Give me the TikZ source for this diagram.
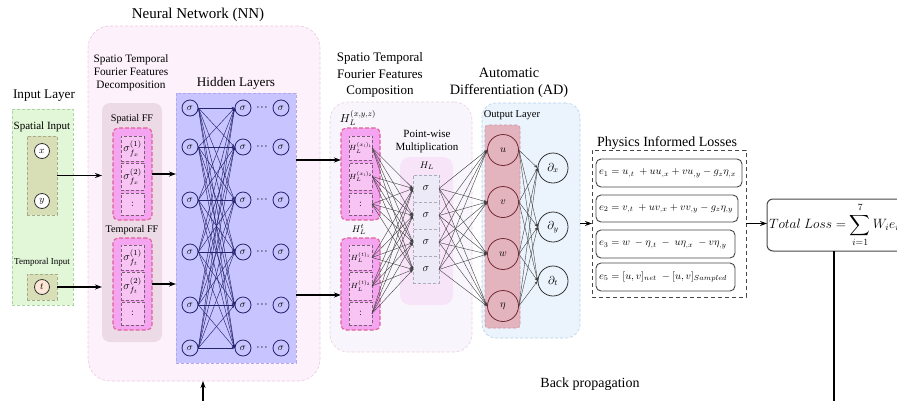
\RequirePackage{fix-cm}
\documentclass[tikz,border=0pt]{standalone}
\usepackage{amsmath}
\usepackage{fontspec}
\setmainfont{Liberation Serif}
\usetikzlibrary{arrows.meta,calc}

\definecolor{nnfill}{RGB}{253,241,251}
\definecolor{nnline}{RGB}{236,200,226}
\definecolor{inpfill}{RGB}{226,246,216}
\definecolor{inpline}{RGB}{170,212,160}
\definecolor{olvfill}{RGB}{216,222,182}
\definecolor{olvline}{RGB}{165,172,140}
\definecolor{peach}{RGB}{253,230,214}
\definecolor{decfill}{RGB}{236,218,231}
\definecolor{magfill}{RGB}{244,164,240}
\definecolor{magline}{RGB}{226,96,150}
\definecolor{subfill}{RGB}{248,196,244}
\definecolor{subline}{RGB}{120,96,112}
\definecolor{hidfill}{RGB}{200,196,255}
\definecolor{hidline}{RGB}{176,170,235}
\definecolor{navy}{RGB}{36,36,110}
\definecolor{compfill}{RGB}{248,246,252}
\definecolor{compline}{RGB}{238,204,224}
\definecolor{pwfill}{RGB}{248,228,248}
\definecolor{cellfill}{RGB}{236,234,246}
\definecolor{cellline}{RGB}{170,170,190}
\definecolor{adfill}{RGB}{235,244,252}
\definecolor{adline}{RGB}{180,208,230}
\definecolor{outfill}{RGB}{228,180,190}
\definecolor{outbline}{RGB}{200,150,162}
\definecolor{outcirc}{RGB}{112,40,52}
\definecolor{egray}{RGB}{70,70,70}

\begin{document}
\begin{tikzpicture}[x=1pt,y=-1pt,
 box/.style={rectangle, anchor=north west, inner sep=0pt, outer sep=0pt},
 dsh/.style={dash pattern=on 3pt off 2pt},
 lbl/.style={inner sep=0pt, outer sep=0pt, align=center},
 arr/.style={-{Stealth[length=7pt,width=5pt]}, line width=1.3pt, black},
 hcirc/.style={circle, draw=navy, line width=0.8pt, minimum size=16pt, inner sep=0pt, font=\fontsize{10}{11}\selectfont},
 icirc/.style={circle, draw=black!80, line width=0.8pt, minimum size=15pt, inner sep=0pt, font=\fontsize{9.5}{10}\selectfont},
 ocirc/.style={circle, draw=outcirc, line width=0.8pt, minimum size=31pt, inner sep=0pt, font=\fontsize{10.5}{12}\selectfont},
 dcirc/.style={circle, draw=black!80, line width=0.8pt, minimum size=30pt, inner sep=0pt, font=\fontsize{11.5}{12}\selectfont},
 hline/.style={navy, line width=0.45pt, -{Stealth[length=3pt,width=2.4pt]}},
 gline/.style={black!75, line width=0.4pt, -{Stealth[length=3.5pt,width=2.6pt]}},
 magbox/.style={box, minimum width=39pt, minimum height=92pt, fill=magfill, draw=magline, line width=1.1pt, dash pattern=on 4pt off 2pt, rounded corners=5pt},
 subbox/.style={box, minimum width=23pt, fill=subfill, draw=subline, line width=0.7pt, dsh},
 ebox/.style={box, minimum height=28pt, draw=egray, line width=0.9pt, rounded corners=5pt},
 etext/.style={lbl, anchor=west, font=\fontsize{10.4}{12}\selectfont},
 cell/.style={box, minimum width=26pt, minimum height=27pt, fill=cellfill, draw=cellline, line width=0.7pt, dsh, font=\fontsize{11}{12}\selectfont}
]
\useasboundingbox (0,0) rectangle (897,400);

% ---------- big backgrounds
\node[box, minimum width=232pt, minimum height=355pt, fill=nnfill, draw=nnline, dsh, line width=0.6pt, rounded corners=22pt] (nn) at (88,26) {};
\node[box, minimum width=61pt, minimum height=196pt, fill=inpfill, draw=inpline, dsh, line width=0.6pt] (inp) at (12,109) {};
\node[box, minimum width=30pt, minimum height=79pt, fill=olvfill, draw=olvline, dsh, line width=0.6pt] (spin) at (27,136) {};
\node[box, minimum width=30pt, minimum height=26pt, fill=olvfill, draw=olvline, dsh, line width=0.6pt] (tin) at (27,274) {};
\node[box, minimum width=60pt, minimum height=239pt, fill=decfill, rounded corners=8pt] (dec) at (102,103) {};
\node[box, minimum width=120pt, minimum height=270pt, fill=hidfill, draw=hidline, dsh, line width=0.5pt] (hid) at (176,93) {};
\node[box, minimum width=142pt, minimum height=250pt, fill=compfill, draw=compline, dsh, line width=0.6pt, rounded corners=18pt] (comp) at (330,102) {};
\node[box, minimum width=53pt, minimum height=148pt, fill=pwfill, rounded corners=10pt] (pw) at (400,157) {};
\node[box, minimum width=98pt, minimum height=235pt, fill=adfill, draw=adline, dsh, line width=0.6pt, rounded corners=14pt] (ad) at (482,103) {};
\node[box, minimum width=35pt, minimum height=203pt, fill=outfill, draw=outbline, dsh, line width=0.6pt, rounded corners=3pt] (outb) at (485,125) {};
\node[box, minimum width=154pt, minimum height=147pt, draw=egray, dash pattern=on 4pt off 3pt, line width=0.9pt] (phys) at (592,150) {};

% ---------- titles
\node[lbl, font=\fontsize{15}{18}\selectfont] (tnn) at (198,15) {Neural Network (NN)};
\node[lbl, font=\fontsize{13.2}{15}\selectfont] (tinp) at (44,96) {Input Layer};
\node[lbl, font=\fontsize{11}{13}\selectfont] (tsin) at (42,127) {Spatial Input};
\node[lbl, font=\fontsize{9}{11}\selectfont] (ttin) at (42,262) {Temporal Input};
\node[lbl, font=\fontsize{11.3}{13}\selectfont] (tdec) at (131,73) {Spatio Temporal\\Fourier Features\\Decomposition};
\node[lbl, font=\fontsize{13.2}{15}\selectfont] (thid) at (236,83) {Hidden Layers};
\node[lbl, font=\fontsize{10.2}{12}\selectfont] (tsff) at (132,119) {Spatial FF};
\node[lbl, font=\fontsize{10.2}{12}\selectfont] (ttff) at (132,230) {Temporal FF};
\node[lbl, font=\fontsize{13}{16.5}\selectfont] (tcomp) at (380,75) {Spatio Temporal\\Fourier Features\\Composition};
\node[lbl, font=\fontsize{11.5}{13}\selectfont] (thx) at (358,118) {$H_L^{(x,y,z)}$};
\node[lbl, font=\fontsize{9.5}{11}\selectfont] (tht) at (359,229) {$H_L^{t}$};
\node[lbl, font=\fontsize{11}{13}\selectfont] (tpw) at (427,142) {Point-wise\\Multiplication};
\node[lbl, font=\fontsize{9.5}{11}\selectfont] (thl) at (427,166) {$H_L$};
\node[lbl, font=\fontsize{14.3}{17}\selectfont] (tad) at (509,83) {Automatic\\Differentiation (AD)};
\node[lbl, font=\fontsize{10.5}{12}\selectfont] (tout) at (512,115) {Output Layer};
\node[lbl, font=\fontsize{14}{16}\selectfont] (tphys) at (667,143) {Physics Informed Losses};
\node[lbl, font=\fontsize{14}{16}\selectfont] (tbp) at (590,384) {Back propagation};

% ---------- input circles
\node[icirc, fill=white] (cx) at (42,151) {$x$};
\node[icirc, fill=white] (cy) at (42,201) {$y$};
\node[icirc, fill=peach] (ct) at (42,287) {$t$};

% ---------- FF boxes
\node[magbox] (sff) at (113,128) {};
\node[magbox] (tff) at (113,238) {};
\node[subbox, minimum height=25pt, font=\fontsize{11}{12}\selectfont] (sf1) at (121,136) {$\sigma_{f_x}^{(1)}$};
\node[subbox, minimum height=27pt, font=\fontsize{11}{12}\selectfont] (sf2) at (121,163) {$\sigma_{f_x}^{(2)}$};
\node[subbox, minimum height=22pt, font=\fontsize{10}{12}\selectfont] (sf3) at (121,193) {$:$};
\node[subbox, minimum height=25pt, font=\fontsize{11}{12}\selectfont] (tf1) at (121,245) {$\sigma_{f_t}^{(1)}$};
\node[subbox, minimum height=28pt, font=\fontsize{11}{12}\selectfont] (tf2) at (121,272) {$\sigma_{f_t}^{(2)}$};
\node[subbox, minimum height=23pt, font=\fontsize{10}{12}\selectfont] (tf3) at (121,302) {$:$};

% ---------- hidden layer
\foreach \y [count=\i] in {108,147,200,252,305,348} {
  \node[hcirc] (ha\i) at (190,\y) {$\sigma$};
  \node[hcirc] (hb\i) at (243,\y) {$\sigma$};
  \node[hcirc] (hc\i) at (281,\y) {$\sigma$};
  \node[lbl, font=\fontsize{12}{12}\selectfont] (hd\i) at (262,\y) {$\cdot\!\cdot\!\cdot$};
}
\foreach \i in {1,...,6} {
  \foreach \j in {1,...,6} {
    \draw[hline] (ha\i.east) -- (hb\j.west);
  }
}

% ---------- composition boxes
\node[magbox] (hxs) at (341,128) {};
\node[magbox] (hts) at (341,238) {};
\node[subbox, minimum height=24pt, font=\fontsize{7.5}{8}\selectfont] (hx1) at (349,136) {$H_L^{(x_l)_1}$};
\node[subbox, minimum height=27pt, font=\fontsize{7.5}{8}\selectfont] (hx2) at (349,163) {$H_L^{(x_l)_2}$};
\node[subbox, minimum height=22pt, font=\fontsize{10}{12}\selectfont] (hx3) at (349,193) {$:$};
\node[subbox, minimum height=25pt, font=\fontsize{7.5}{8}\selectfont] (ht1) at (349,245) {$H_L^{(t)_1}$};
\node[subbox, minimum height=28pt, font=\fontsize{7.5}{8}\selectfont] (ht2) at (349,272) {$H_L^{(t)_2}$};
\node[subbox, minimum height=23pt, font=\fontsize{10}{12}\selectfont] (ht3) at (349,302) {$:$};

% ---------- point-wise cells
\node[cell] (c1) at (413,175) {$\sigma$};
\node[cell] (c2) at (413,202) {$\sigma$};
\node[cell] (c3) at (413,229) {$\sigma$};
\node[cell] (c4) at (413,256) {$\sigma$};

\foreach \s in {hx1,hx2,hx3,ht1,ht2,ht3} {
  \foreach \t in {c1,c2,c3,c4} {
    \draw[gline] (\s.east) -- (\t.west);
  }
}

% ---------- output layer
\foreach \y/\l [count=\i] in {150/u,202/v,254/w,306/\eta} {
  \node[ocirc] (o\i) at (503,\y) {$\l$};
}
\node[dcirc] (dx) at (553,168) {$\partial_x$};
\node[dcirc] (dy) at (553,227) {$\partial_y$};
\node[dcirc] (dt) at (553,281) {$\partial_t$};

\foreach \s in {c1,c2,c3,c4} {
  \foreach \t in {o1,o2,o3,o4} {
    \draw[gline] (\s.east) -- (\t.west);
  }
}
\foreach \s in {o1,o2,o3,o4} {
  \foreach \t in {dx,dy,dt} {
    \draw[gline] (\s.east) -- (\t.west);
  }
}

% ---------- losses
\node[ebox, minimum width=146pt] (e1) at (596,159) {};
\node[ebox, minimum width=142pt, minimum height=27pt] (e2) at (596,195) {};
\node[ebox, minimum width=139pt] (e3) at (596,230) {};
\node[ebox, minimum width=139pt] (e5) at (596,263) {};
\node[etext] (e1t) at (599,173) {$e_1 = u_{,t}\ + uu_{,x} + vu_{,y} - g_z\eta_{,x}$};
\node[etext] (e2t) at (599,208.5) {$e_2 = v_{,t}\ + uv_{,x} + vv_{,y} - g_z\eta_{,y}$};
\node[etext] (e3t) at (599,244) {$e_3 = w\ - \eta_{,t}\ -\ u\eta_{,x}\ - v\eta_{,y}$};
\node[etext] (e5t) at (599,277) {$e_5 = [u,v]_{net}\ - [u,v]_{Sampled}$};

\node[box, minimum width=160pt, minimum height=52pt, draw=egray, line width=1pt, rounded corners=6pt] (tl) at (767,199) {};
\node[lbl, anchor=west, font=\fontsize{13.5}{15}\selectfont] (tlt) at (769,225) {$\displaystyle Total\ Loss = \sum_{i=1}^{7} W_i e_i$};

% ---------- main arrows
\draw[arr] (spin.east) -- (spin.east -| dec.west);
\draw[arr] (tin.east) -- (tin.east -| dec.west);
\draw[arr] (sff.east) -- (sff.east -| hid.west);
\draw[arr] (tff.east) -- (tff.east -| hid.west);
\coordinate (a1) at (341,160);
\coordinate (a2) at (341,295);
\draw[arr] (hid.east |- a1) -- (a1);
\draw[arr] (hid.east |- a2) -- (a2);
\draw[arr] (ad.east |- phys.west) -- (phys.west);
\draw[arr] (phys.east) -- (phys.east -| tl.west);
\coordinate (bpA) at (834,420);
\coordinate (bpB) at (203,420);
\draw[arr] (bpA |- tl.south) -- (bpA) -- (bpB) -- (bpB |- nn.south);
\end{tikzpicture}
\end{document}
